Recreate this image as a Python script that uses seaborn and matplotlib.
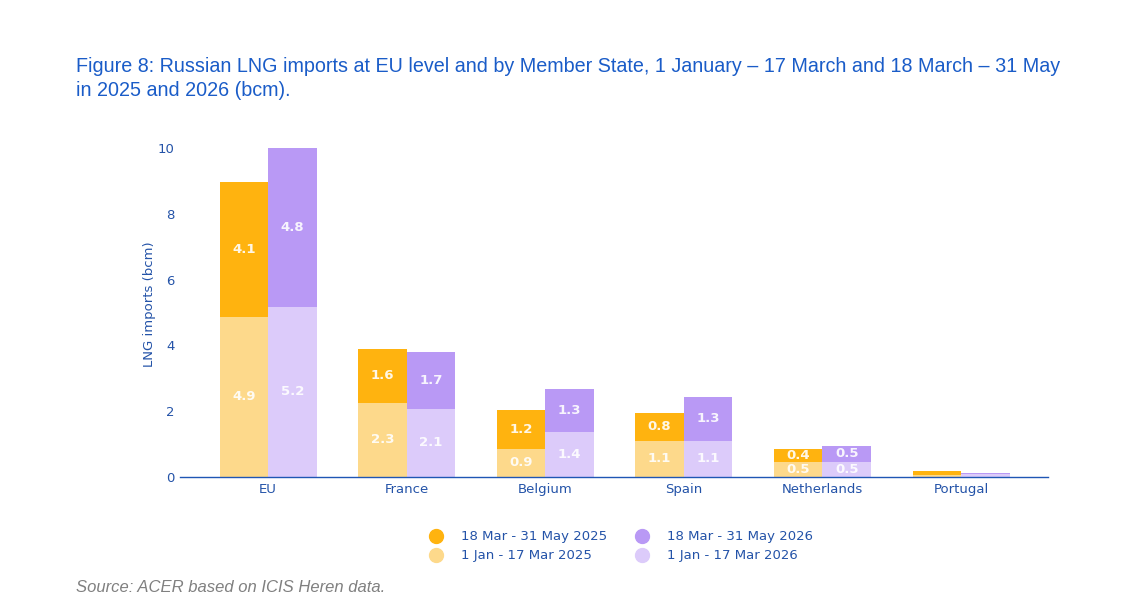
import matplotlib
matplotlib.use("Agg")
import matplotlib.pyplot as plt
import seaborn as sns
import pandas as pd
from matplotlib.lines import Line2D

categories = ["EU", "France", "Belgium", "Spain", "Netherlands", "Portugal"]
early_2025 = [4.87, 2.26, 0.86, 1.1, 0.46, 0.06]
late_2025 = [4.08, 1.63, 1.18, 0.84, 0.4, 0.13]
early_2026 = [5.17, 2.07, 1.37, 1.1, 0.46, 0.08]
late_2026 = [4.83, 1.73, 1.3, 1.34, 0.48, 0.03]
years = ["2025", "2026"]

sns.set_theme(style="white")
plt.rcParams['font.family'] = ['DejaVu Sans']

BLUE = "#1f56b4"
TEXT = "#2453a8"
c_late25, c_early25 = "#FFB30F", "#FDD98B"
c_late26, c_early26 = "#B999F5", "#DCCBFA"

rows = []
for i, c in enumerate(categories):
    rows.append(dict(cat=c, year="2025", early=early_2025[i], late=late_2025[i]))
    rows.append(dict(cat=c, year="2026", early=early_2026[i], late=late_2026[i]))
df = pd.DataFrame(rows)
df["total"] = df["early"] + df["late"]

fig = plt.figure(figsize=(11.26, 6.04), dpi=100)
ax = fig.add_axes([0.16, 0.2103, 0.771, 0.572])

sns.barplot(data=df, x="cat", y="total", hue="year", hue_order=years,
            palette=[c_late25, c_late26], width=0.7, ax=ax, legend=False,
            saturation=1, errorbar=None, linewidth=0)
sns.barplot(data=df, x="cat", y="early", hue="year", hue_order=years,
            palette=[c_early25, c_early26], width=0.7, ax=ax, legend=False,
            saturation=1, errorbar=None, linewidth=0)

# labels
for ci, yr in enumerate(years):
    top_cont = ax.containers[ci]
    sub = df[df["year"] == yr].reset_index(drop=True)
    for j, pt in enumerate(top_cont):
        e = sub.loc[j, "early"]; l = sub.loc[j, "late"]
        xc = pt.get_x() + pt.get_width() / 2
        for val, yc in ((e, e / 2), (l, e + l / 2)):
            if val >= 0.3:
                ax.text(xc, yc, f"{val:.1f}", ha="center", va="center",
                        color="white", fontsize=9.5, fontweight="bold", alpha=0.9)

ax.set_ylim(0, 10.5)
ax.set_xlim(-0.635, 5.63)
ax.set_yticks([0, 2, 4, 6, 8, 10])
ax.set_xlabel("")
ax.set_ylabel("LNG imports (bcm)", color=TEXT, fontsize=9.5, labelpad=1)
for s in ["top", "right", "left"]:
    ax.spines[s].set_visible(False)
ax.spines["bottom"].set_color(BLUE)
ax.spines["bottom"].set_linewidth(1.0)
ax.tick_params(axis="both", colors=TEXT, labelsize=9.5, length=0)
ax.tick_params(axis="y", pad=4)
ax.tick_params(axis="x", pad=4)
ax.grid(False)

handles = [
    Line2D([], [], marker="o", linestyle="", markersize=10, color=c_late25),
    Line2D([], [], marker="o", linestyle="", markersize=10, color=c_early25),
    Line2D([], [], marker="o", linestyle="", markersize=10, color=c_late26),
    Line2D([], [], marker="o", linestyle="", markersize=10, color=c_early26),
]
labels = ["18 Mar - 31 May 2025", "1 Jan - 17 Mar 2025",
          "18 Mar - 31 May 2026", "1 Jan - 17 Mar 2026"]
leg = fig.legend(handles, labels, ncol=2, loc="center", bbox_to_anchor=(0.551, 0.0955),
                 frameon=False, fontsize=9.5, handletextpad=1.3, columnspacing=2.0,
                 labelspacing=0.45, handlelength=1.2)
for t in leg.get_texts():
    t.set_color(TEXT)

fig.text(76 / 1126, 1 - 57 / 604,
         "Figure 8: Russian LNG imports at EU level and by Member State, 1 January \u2013 17 March and 18 March \u2013 31 May\nin 2025 and 2026 (bcm).",
         family=["Liberation Sans"], fontsize=14.2, color="#1a5cc8", ha="left", va="top",
         linespacing=1.3)

fig.text(76 / 1126, 1 - 588 / 604, "Source: ACER based on ICIS Heren data.",
         family=["Liberation Sans"], fontsize=12, style="italic", color="#808080",
         ha="left", va="center")

fig.savefig("out.png", dpi=100, facecolor="white")
